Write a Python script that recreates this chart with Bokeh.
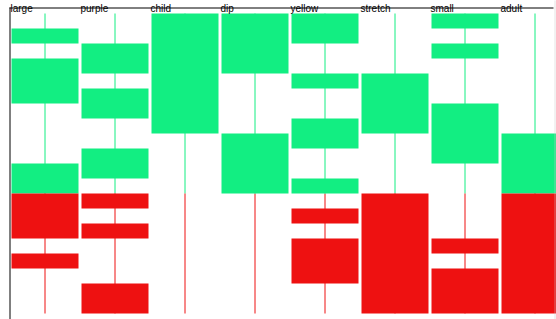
from bokeh.plotting import figure
from bokeh.models import Range1d, ColumnDataSource
from bokeh.core.properties import value
from bokeh.embed import file_html
from bokeh.resources import INLINE

# ---- data ----
categories = ["large", "purple", "child", "dip", "yellow", "stretch", "small", "adult"]
large_ranges = [(10, 11), (6, 9), (-3, 2), (-5, -4)]
purple_ranges = [(8, 10), (5, 7), (1, 3), (-1, 0), (-3, -2), (-8, -6)]
child_ranges = [(4, 12)]
dip_ranges = [(8, 12), (0, 4)]
yellow_ranges = [(10, 12), (7, 8), (3, 5), (0, 1), (-2, -1), (-6, -3)]
stretch_ranges = [(4, 8), (-8, 0)]
small_ranges = [(11, 12), (9, 10), (2, 6), (-4, -3), (-8, -5)]
adult_ranges = [(-8, 4)]
all_ranges = [large_ranges, purple_ranges, child_ranges, dip_ranges,
              yellow_ranges, stretch_ranges, small_ranges, adult_ranges]
value_min = -8
value_max = 12
threshold = 0

# ---- style ----
GREEN = "#12EE82"
RED = "#EE1111"
PX_X = 70.0   # pixels per category
PX_Y = 15.0   # pixels per value unit
W, H = 556, 319
x0 = -10 / PX_X
y_top = 193 / PX_Y
center_off = 34.5 / PX_X
bar_w = 67 / PX_X


def py(pix):  # pixel row -> data y
    return y_top - pix / PX_Y


def px(pix):  # pixel col -> data x
    return x0 + pix / PX_X


p = figure(width=W, height=H, x_range=Range1d(x0, x0 + W / PX_X),
           y_range=Range1d(py(H), y_top), toolbar_location=None,
           output_backend="svg", min_border=0, outline_line_color=None,
           x_axis_location=None, y_axis_location=None,
           background_fill_color="white", border_fill_color="white")
p.xgrid.visible = False
p.ygrid.visible = False

# vertical whisker lines, split at threshold
xs = [i + center_off for i in range(len(categories))]
p.segment(x0=xs, x1=xs, y0=[threshold] * len(xs), y1=[value_max] * len(xs),
          line_color=GREEN, line_width=1)
p.segment(x0=xs, x1=xs, y0=[value_min] * len(xs), y1=[threshold] * len(xs),
          line_color=RED, line_width=1)

# rectangles
g = dict(left=[], right=[], top=[], bottom=[])
r = dict(left=[], right=[], top=[], bottom=[])
for i, ranges in enumerate(all_ranges):
    c = i + center_off
    for lo, hi in ranges:
        if hi > threshold:
            g["left"].append(c - bar_w / 2); g["right"].append(c + bar_w / 2)
            g["bottom"].append(max(lo, threshold)); g["top"].append(hi)
        if lo < threshold:
            r["left"].append(c - bar_w / 2); r["right"].append(c + bar_w / 2)
            r["bottom"].append(lo); r["top"].append(min(hi, threshold))
p.quad(source=ColumnDataSource(g), left="left", right="right", top="top",
       bottom="bottom", fill_color=GREEN, line_color=None)
p.quad(source=ColumnDataSource(r), left="left", right="right", top="top",
       bottom="bottom", fill_color=RED, line_color=None)

# frame lines (top and left)
p.segment(x0=[px(9)], x1=[px(553)], y0=[py(7.5)], y1=[py(7.5)],
          line_color="black", line_width=1)
p.segment(x0=[px(9.5)], x1=[px(9.5)], y0=[py(7)], y1=[py(H)],
          line_color="black", line_width=1)
p.segment(x0=[px(554.5)], x1=[px(554.5)], y0=[py(0)], y1=[py(H)],
          line_color="#c8c8c8", line_width=1, line_dash="1 1")

# category labels
p.text(x=list(range(len(categories))), y=[py(8)] * len(categories),
       text=categories, text_font=value("Liberation Sans"),
       text_font_size="10px", text_align="left", text_baseline="alphabetic",
       text_color="black")

open("out.html", "w").write(file_html(p, INLINE))
